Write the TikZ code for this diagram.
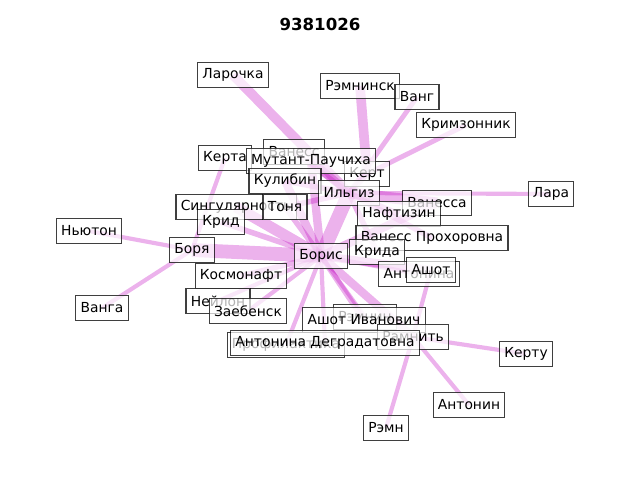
\documentclass[tikz,border=0pt]{standalone}
\usepackage{fontspec}
\setmainfont{DejaVu Sans}
\pgfdeclarelayer{bg}
\pgfsetlayers{bg,main}
\definecolor{edgemag}{rgb}{0.75,0,0.75}
\tikzset{
  namebox/.style={draw=black,draw opacity=0.75,fill=white,fill opacity=0.7,text opacity=1,
    line width=0.8pt,inner xsep=3.5pt,minimum height=18.5pt,font=\fontsize{10}{12}\selectfont},
  friend/.style={draw=edgemag,draw opacity=0.3,line cap=butt}
}
\begin{document}
\begin{tikzpicture}[x=0.0254cm,y=-0.0254cm]
    \useasboundingbox (0,0) rectangle (640,480);
    %TITLE
    \node[font=\fontsize{12}{14}\selectfont\bfseries] (title) at (320,24) {9381026};

    %OUTER NAMES
    \node[namebox] (larochka) at (233,75) {Ларочка};
    \node[namebox] (remninsk) at (360,86) {Рэмнинск};
    \node[namebox] (vang) at (417,97) {Ванг};
    \node[namebox] (krimzonnik) at (466,125) {Кримзонник};
    \node[namebox] (lara) at (551,194) {Лара};
    \node[namebox] (nyuton) at (89,231) {Ньютон};
    \node[namebox] (vanga) at (102,308) {Ванга};
    \node[namebox] (kertu) at (526,354) {Керту};
    \node[namebox] (antonin) at (469,405) {Антонин};
    \node[namebox] (remn) at (386,428) {Рэмн};
    %INNER NAMES
    \node[namebox] (kerta) at (225,158) {Керта};
    \node[namebox] (vaness) at (294,152) {Ванесс};
    \node[namebox] (kert) at (367,174) {Керт};
    \node[namebox] (mutant) at (311,161) {Мутант-Паучиха};
    \node[namebox] (kulibin) at (285,181) {Кулибин};
    \node[namebox] (ilgiz) at (349,193) {Ильгиз};
    \node[namebox] (vanessa) at (437,203) {Ванесса};
    \node[namebox] (naftizin) at (399,214) {Нафтизин};
    \node[namebox] (vprohorovna) at (432,238) {Ванесс Прохоровна};
    \node[namebox] (singul) at (236,207) {Сингулярность};
    \node[namebox] (krid) at (221,222) {Крид};
    \node[namebox] (tonya) at (285,207) {Тоня};
    \node[namebox] (borya) at (192,250) {Боря};
    \node[namebox] (krida) at (377,252) {Крида};
    \node[namebox] (boris) at (321,256) {Борис};
    \node[namebox] (antonina) at (419,274) {Антонина};
    \node[namebox] (ashot) at (431,270) {Ашот};
    \node[namebox] (kosmonaft) at (241,276) {Космонафт};
    \node[namebox] (neylon) at (218,301) {Нейлон};
    \node[namebox] (zaebensk) at (248,311) {Заебенск};
    \node[namebox] (remnin) at (365,317) {Рэмнин};
    \node[namebox] (ashotiv) at (364,320) {Ашот Иванович};
    \node[namebox] (ramnit) at (413,337) {Рамнить};
    \node[namebox] (profil) at (286,345) {Профилактика};
    \node[namebox] (antoninad) at (325,343) {Антонина Деградатовна};

    %EDGES
    \begin{pgfonlayer}{bg}
    \foreach \a/\b/\w in {larochka/ilgiz/7, remninsk/kert/7, vang/ilgiz/3.5, krimzonnik/kert/3.5,
        lara/ilgiz/3, kerta/borya/3, nyuton/borya/3, vanga/borya/3, borya/boris/10,
        boris/ilgiz/10, boris/mutant/6, boris/kulibin/6, boris/tonya/4, boris/singul/8,
        boris/krid/4, boris/kosmonaft/4, boris/neylon/3, boris/zaebensk/3, boris/ashotiv/4,
        boris/antoninad/3, boris/remnin/3, boris/ashot/6, boris/ramnit/6, boris/vanessa/6,
        boris/antonina/3, boris/profil/3, ilgiz/vanessa/8, ilgiz/naftizin/4, ilgiz/vprohorovna/4,
        ilgiz/krida/4, ilgiz/mutant/6, ilgiz/kulibin/4, ilgiz/vaness/4, ilgiz/kert/4,
        ilgiz/tonya/4, ramnit/kertu/3, ramnit/antonin/3, ramnit/remn/3, ramnit/ashot/3}
        \draw[friend,line width=\w pt] (\a.center) -- (\b.center);
    \end{pgfonlayer}
\end{tikzpicture}
\end{document}
